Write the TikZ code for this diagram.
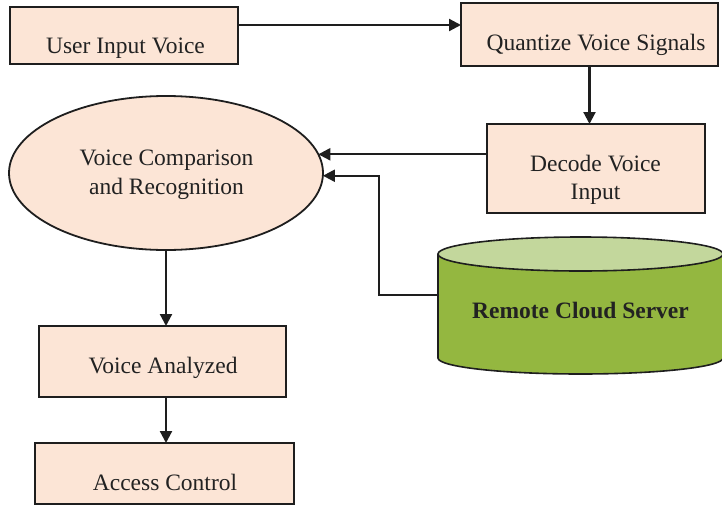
\documentclass[tikz,border=0pt]{standalone}
\usepackage{fontspec}
\setmainfont{Liberation Serif}
\usetikzlibrary{arrows.meta,shapes.geometric}
\definecolor{peach}{HTML}{FCE5D6}
\definecolor{edge}{HTML}{1E1E1E}
\definecolor{ink}{HTML}{222222}
\definecolor{olive}{HTML}{94B740}
\definecolor{olivetop}{HTML}{C3D79C}
\tikzset{
  box/.style={draw=edge, line width=1.8pt, fill=peach, rectangle, inner sep=0pt, outer sep=0pt},
  oval/.style={draw=edge, line width=1.8pt, fill=peach, ellipse, inner sep=0pt, outer sep=0pt},
  lbl/.style={anchor=base, inner sep=0pt, text=ink, font=\fontsize{23.5}{28}\selectfont},
  flow/.style={draw=edge, line width=2.2pt, -{Triangle[length=12pt,width=12pt]}},
}
\begin{document}
\begin{tikzpicture}[x=1pt, y=-1pt]
\useasboundingbox (0,0) rectangle (722,506);

% process boxes
\node[box, minimum width=228pt, minimum height=57pt] (uiv) at (124,35.5) {};
\node[box, minimum width=257pt, minimum height=63pt] (qvs) at (589.5,34.5) {};
\node[box, minimum width=218pt, minimum height=89pt] (dec) at (596,168.5) {};
\node[oval, minimum width=314pt, minimum height=154pt] (ell) at (166,173) {};
\node[box, minimum width=247pt, minimum height=71pt] (va) at (162.5,361.5) {};
\node[box, minimum width=259pt, minimum height=61pt] (ac) at (164.5,473.5) {};

% database cylinder (y axis points down, so the lower rim runs from 180 to 0 degrees)
\def\cx{580.5}\def\rx{142.5}
\fill[olive] (\cx-\rx,254) -- (\cx-\rx,358) arc[start angle=180, end angle=0, x radius=\rx, y radius=16] -- (\cx+\rx,254) -- cycle;
\draw[edge, line width=1.6pt] (\cx-\rx,254) -- (\cx-\rx,358) arc[start angle=180, end angle=0, x radius=\rx, y radius=16] -- (\cx+\rx,254);
\draw[edge, line width=1.6pt, fill=olivetop] (\cx,254) ellipse[x radius=\rx, y radius=17];
\node[inner sep=0pt, minimum width=285pt, minimum height=104pt] (cloud) at (\cx,306) {};
\coordinate (cloudport) at (438,295);

% labels
\node[lbl] (t1) at (125.5,53) {User Input Voice};
\node[lbl] (t2) at (596,50) {Quantize Voice Signals};
\node[lbl] (t3) at (595.5,171) {Decode Voice};
\node[lbl] (t4) at (595.5,199) {Input};
\node[lbl] (t5) at (166.5,165) {Voice Comparison};
\node[lbl] (t6) at (166.5,194) {and Recognition};
\node[lbl, font=\fontsize{23.5}{28}\selectfont\bfseries] (t7) at (\cx,318) {Remote Cloud Server};
\node[lbl] (t8) at (163,373) {Voice Analyzed};
\node[lbl] (t9) at (165,490) {Access Control};

% connectors
\draw[flow] (uiv.east |- 0,25) -- (qvs.west |- 0,25);
\draw[flow] (qvs.south) -- (qvs.south |- dec.north);
\draw[flow] (dec.west |- ell.7) -- (ell.7);
\draw[flow] (cloudport) -- ++(-59,0) |- (ell.-1);
\draw[flow] (ell.south) -- (ell.south |- va.north);
\draw[flow] (ell.south |- va.south) -- (ell.south |- ac.north);
\end{tikzpicture}
\end{document}
